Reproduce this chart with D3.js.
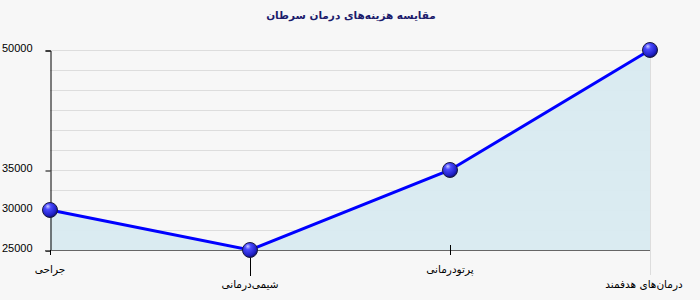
<!DOCTYPE html>
<html>
<head>
<meta charset="utf-8">
<script src="https://cdn.jsdelivr.net/npm/d3@7"></script>
<style>
  body { margin: 0; background: #f7f7f7; }
  svg { display: block; }
</style>
</head>
<body>
<svg id="chart" width="700" height="300"></svg>
<script>
// chart data
var categories = ["جراحی", "شیمی‌درمانی", "پرتودرمانی", "درمان‌های هدفمند"];
var costs = [30000, 25000, 35000, 50000];
var yTickValues = [25000, 30000, 35000, 50000];
var gridValues = [27500, 30000, 32500, 35000, 37500, 40000, 42500, 45000, 47500, 50000];
var chartTitle = "مقایسه هزینه‌های درمان سرطان";

var svg = d3.select("#chart");
var font = "Tahoma, 'DejaVu Sans', sans-serif";
var numFont = "'Liberation Sans', Arial, sans-serif";

var x = d3.scalePoint().domain(d3.range(categories.length)).range([50, 650]);
var y = d3.scaleLinear().domain([25000, 50000]).range([250, 50]);

svg.append("rect").attr("width", 700).attr("height", 300).attr("fill", "#f7f7f7");

// title
svg.append("text")
  .attr("x", 351).attr("y", 19)
  .attr("text-anchor", "middle")
  .attr("direction", "rtl")
  .style("font-family", font).style("font-size", "10.5px").style("font-weight", "bold")
  .attr("fill", "#1c1c6c")
  .text(chartTitle);

// grid lines
svg.selectAll(".grid").data(gridValues).enter().append("line")
  .attr("x1", 50).attr("x2", 650)
  .attr("y1", function(d){ return y(d) + 0.5; }).attr("y2", function(d){ return y(d) + 0.5; })
  .attr("stroke", "#dddddd");

// area under line
var area = d3.area()
  .x(function(d, i){ return x(i); })
  .y0(y(25000))
  .y1(function(d){ return y(d); });
svg.append("path").datum(costs).attr("d", area)
  .attr("fill", "#d8eaf0").attr("fill-opacity", 0.95);

// right edge line
svg.append("line").attr("x1", 650.5).attr("x2", 650.5).attr("y1", 50).attr("y2", 275)
  .attr("stroke", "#dddddd");

// y axis
var yAxis = d3.axisLeft(y).tickValues(yTickValues).tickSize(5).tickPadding(13).tickFormat(d3.format("d"));
var gy = svg.append("g").attr("transform", "translate(50.5,0.5)").call(yAxis);
gy.select(".domain").attr("stroke", "#000");
gy.selectAll(".tick line").attr("stroke", "#000");
gy.selectAll("text")
  .style("font-family", numFont).style("font-size", "11px").attr("fill", "#000")
  .attr("dy", "0.05em");

// x axis line
svg.append("line").attr("x1", 45).attr("x2", 650).attr("y1", 250.5).attr("y2", 250.5)
  .attr("stroke", "#666");

// x ticks (staggered)
var tickSpecs = categories.map(function(c, i){
  if (i === 0) return {y1: 250, y2: 255, ly: 273, col: "#000"};
  if (i === 1) return {y1: 250, y2: 276, ly: 288, col: "#000"};
  if (i === 2) return {y1: 245, y2: 255, ly: 273, col: "#000"};
  return {y1: 250, y2: 275, ly: 288, col: "#dddddd"};
});
svg.selectAll(".xtick").data(categories).enter().append("line")
  .attr("x1", function(d, i){ return x(i) + 0.5; })
  .attr("x2", function(d, i){ return x(i) + 0.5; })
  .attr("y1", function(d, i){ return tickSpecs[i].y1; })
  .attr("y2", function(d, i){ return tickSpecs[i].y2; })
  .attr("stroke", function(d, i){ return tickSpecs[i].col; });
svg.selectAll(".xlabel").data(categories).enter().append("text")
  .attr("x", function(d, i){ return i === 3 ? x(i) - 6 : x(i); })
  .attr("y", function(d, i){ return tickSpecs[i].ly; })
  .attr("text-anchor", "middle")
  .attr("direction", "rtl")
  .style("font-family", font).style("font-size", "10.5px").attr("fill", "#000")
  .text(function(d){ return d; });

// line
var line = d3.line()
  .x(function(d, i){ return x(i); })
  .y(function(d){ return y(d); });
svg.append("path").datum(costs).attr("d", line)
  .attr("fill", "none").attr("stroke", "#0000ff").attr("stroke-width", 3);

// markers
var defs = svg.append("defs");
var grad = defs.append("radialGradient").attr("id", "ball")
  .attr("cx", "40%").attr("cy", "35%").attr("r", "65%").attr("fx", "35%").attr("fy", "25%");
grad.append("stop").attr("offset", "0%").attr("stop-color", "#c8c8ff");
grad.append("stop").attr("offset", "30%").attr("stop-color", "#4a4aff");
grad.append("stop").attr("offset", "80%").attr("stop-color", "#2020c8");
grad.append("stop").attr("offset", "100%").attr("stop-color", "#10107a");

svg.selectAll(".dot").data(costs).enter().append("circle")
  .attr("cx", function(d, i){ return x(i); })
  .attr("cy", function(d){ return y(d); })
  .attr("r", 7.5)
  .attr("fill", "url(#ball)")
  .attr("stroke", "#1a1a40").attr("stroke-width", 1);
</script>
</body>
</html>
